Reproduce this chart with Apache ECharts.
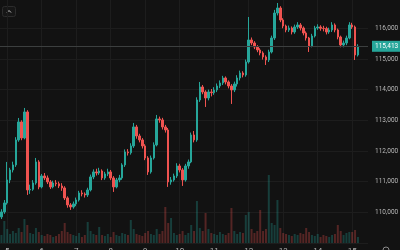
<!DOCTYPE html>
<html><head><meta charset="utf-8">
<script src="https://cdn.jsdelivr.net/npm/echarts@6/dist/echarts.min.js"></script>
<style>html,body{margin:0;padding:0;background:#121212;overflow:hidden}#c{width:400px;height:250px;}</style>
</head><body><div id="c"></div>
<script>
// ---- data ----
const dayLabels = ['5','6','7','8','9','10','11','12','13','14','15'];
const firstOpen = 109850;
const closes = [
110012,110305,111055,111381,111544,112359,112946,112424,113272,110729,
110750,110957,111642,110827,111185,111120,110990,110827,110957,110930,
110859,110794,110468,110240,110175,110273,110403,110631,110598,110566,
110729,111153,111316,111283,111348,111120,111251,111316,111120,110827,
111055,111120,111544,111968,111940,112163,112783,112489,112359,112163,
111772,111316,111772,112196,113044,113011,112783,112685,110990,111055,
111185,111511,111381,111055,111511,111642,112522,112359,113663,114087,
113924,113728,113924,113900,113989,114119,114217,114380,114250,114119,
113989,114185,114380,114543,114478,114902,115619,115521,115391,115293,
115195,115065,114967,115228,115684,116499,116662,116271,116075,115945,
116010,115880,116043,116108,116010,115847,115684,115423,115749,116010,
116043,116000,115990,115880,115945,116108,115945,115717,115456,115521,
115684,116108,116043,115130,115413];
const lows = [
109780,109950,110250,110950,111300,111480,112300,112350,112380,110566,
110600,110700,110900,110750,110780,111050,110920,110760,110780,110850,
110790,110700,110400,110150,110077,110120,110200,110350,110520,110480,
110500,110680,111080,111200,111220,111050,111060,111180,111050,110664,
110780,110980,111060,111480,111850,111880,112100,112400,112280,112080,
111700,111218,111260,111720,112150,112920,112700,112600,110827,110900,
111000,111120,111300,110860,111000,111420,111600,112280,112300,113600,
113850,113435,113650,113780,113830,113920,114050,114150,114170,114040,
113533,113920,114100,114300,114400,114420,114850,115450,115320,115220,
115120,114980,114804,114900,115180,115620,116420,116200,116000,115870,
115880,115800,115820,115980,115930,115770,115600,115228,115380,115700,
115950,115920,115900,115800,115820,115880,115870,115640,115380,115380,
115450,115640,115980,114967,115080];
const highs = [
110100,110400,111642,111450,111650,112450,113076,113000,113402,113330,
110900,111050,111772,111700,111250,111280,111200,111050,111030,111050,
111000,110950,110850,110520,110300,110350,110480,110700,110720,110650,
110800,111230,111400,111420,111450,111400,111320,111420,111380,111180,
111120,111220,111600,112050,112060,112250,112913,112850,112560,112420,
112220,111830,111850,112280,113174,113120,113080,112850,112750,111150,
111260,111600,111580,111440,111580,111720,112600,112650,113750,114250,
114150,113980,114000,114020,114080,114200,114300,114450,114430,114300,
114180,114260,114470,114620,114600,114980,116369,115700,115580,115450,
115350,115250,115120,115300,115760,116600,116825,116720,116330,116120,
116090,116060,116120,116200,116170,116060,115900,115720,115820,116080,
116130,116100,116080,116050,116020,116200,116160,115990,115760,115600,
115760,116200,116180,116090,115480];
const volumes = [
32,88,56,36,48,40,60,44,96,72,
40,36,60,44,32,28,36,32,24,28,
36,48,80,44,36,32,28,40,24,32,
84,48,36,32,64,32,28,36,24,44,
32,28,40,36,32,92,56,36,32,28,
40,48,36,32,56,36,48,144,80,100,
40,32,36,48,32,40,72,48,168,60,
48,120,56,40,36,32,44,36,32,40,
140,48,36,44,40,112,124,56,40,48,
132,48,56,272,80,72,172,60,40,36,
32,28,36,32,40,36,60,44,32,28,
36,24,32,28,24,32,36,72,48,32,
40,44,44,52,24];
const priceTicks = [110000,111000,112000,113000,114000,115000,116000];
const lastPrice = 115413;
const totalSlots = 128;
const firstLabelIndex = 2;
const labelEvery = 12;

// ---- build ----
const UP = '#26a69a', DOWN = '#ef5350';
const categories = [];
for (let i = 0; i < totalSlots; i++) {
  const k = (i - firstLabelIndex) / labelEvery;
  categories.push(Number.isInteger(k) && k >= 0 && k < dayLabels.length ? dayLabels[k] : ' ' + i);
}
const opens = closes.map((c, i) => i === 0 ? firstOpen : closes[i - 1]);
const candleData = closes.map((c, i) => [opens[i], c, lows[i], highs[i]]);
const volData = volumes.map((v, i) => ({
  value: v,
  itemStyle: { color: closes[i] >= opens[i] ? 'rgba(38,166,154,0.3)' : 'rgba(239,83,80,0.3)' }
}));
const showAt = (idx) => (idx - firstLabelIndex) % labelEvery === 0 && idx >= firstLabelIndex;
const FONT = 'Roboto, sans-serif';

const chart = echarts.init(document.getElementById('c'), null, { renderer: 'canvas' });
chart.setOption({
  backgroundColor: '#121212',
  animation: false,
  grid: [
    { left: 0, right: 32, top: -2.37, height: 245.33, outerBoundsMode: 'none', containLabel: false },
    { left: 0, right: 32, top: 160, height: 83, outerBoundsMode: 'none', containLabel: false }
  ],
  xAxis: [
    {
      type: 'category', gridIndex: 0, data: categories, boundaryGap: true,
      axisLine: { show: false }, axisTick: { show: false }, axisLabel: { show: false },
      splitLine: { show: true, alignWithLabel: true, interval: showAt, lineStyle: { color: '#1d1d1d', width: 1 } }
    },
    {
      type: 'category', gridIndex: 1, data: categories, boundaryGap: true,
      axisLine: { show: false }, axisTick: { show: false },
      axisLabel: { show: true, interval: showAt, margin: 4, color: '#b2b2b2', fontSize: 8, fontFamily: FONT },
      splitLine: { show: false }
    }
  ],
  yAxis: [
    {
      type: 'value', gridIndex: 0, position: 'right', min: 109000, max: 117000, interval: 1000,
      axisLine: { show: false }, axisTick: { show: false },
      axisLabel: {
        margin: 7, color: '#b8b8b8', fontSize: 6.5, fontFamily: FONT,
        formatter: v => priceTicks.indexOf(v) >= 0 ? v.toLocaleString('en-US') : ''
      },
      splitLine: { show: true, lineStyle: { color: '#1d1d1d', width: 1 } }
    },
    {
      type: 'value', gridIndex: 1, position: 'right', min: 0, max: 332,
      axisLine: { show: false }, axisTick: { show: false }, axisLabel: { show: false },
      splitLine: { show: false }
    }
  ],
  series: [
    {
      type: 'bar', xAxisIndex: 1, yAxisIndex: 1, data: volData, barWidth: 2,
      markLine: {
        silent: true, symbol: 'none', animation: false,
        lineStyle: { opacity: 0 },
        label: {
          show: true, position: 'end', distance: 2, formatter: String(volumes[volumes.length - 1]),
          backgroundColor: UP, color: '#ffffff', fontSize: 6.5, fontFamily: FONT, padding: [2, 4, 2, 4]
        },
        data: [{ yAxis: volumes[volumes.length - 1] }]
      }
    },
    {
      type: 'candlestick', xAxisIndex: 0, yAxisIndex: 0, data: candleData, barWidth: 2, clip: false,
      itemStyle: { color: UP, color0: DOWN, borderColor: UP, borderColor0: DOWN, borderWidth: 1 },
      markLine: {
        silent: true, symbol: 'none', animation: false,
        lineStyle: { color: '#3c3f3f', type: 'solid', width: 1 },
        label: {
          show: true, position: 'end', distance: 4,
          formatter: lastPrice.toLocaleString('en-US'),
          backgroundColor: UP, color: '#ffffff', fontSize: 6.5, fontFamily: FONT, padding: [2, 3, 2, 3]
        },
        data: [{ yAxis: lastPrice }]
      }
    }
  ],
  graphic: [
    { type: 'rect', shape: { x: 2.5, y: 6.5, width: 13, height: 10, r: 2 },
      style: { fill: '#161616', stroke: '#2c2c2c', lineWidth: 1 } },
    { type: 'polyline', shape: { points: [[7, 12.5], [9, 10.5], [11, 12.5]] },
      style: { stroke: '#c8c8c8', lineWidth: 1, fill: null } },
    { type: 'circle', shape: { cx: 386, cy: 250, r: 3 },
      style: { fill: null, stroke: '#8a8a8a', lineWidth: 1 } }
  ]
});
</script>
</body></html>
